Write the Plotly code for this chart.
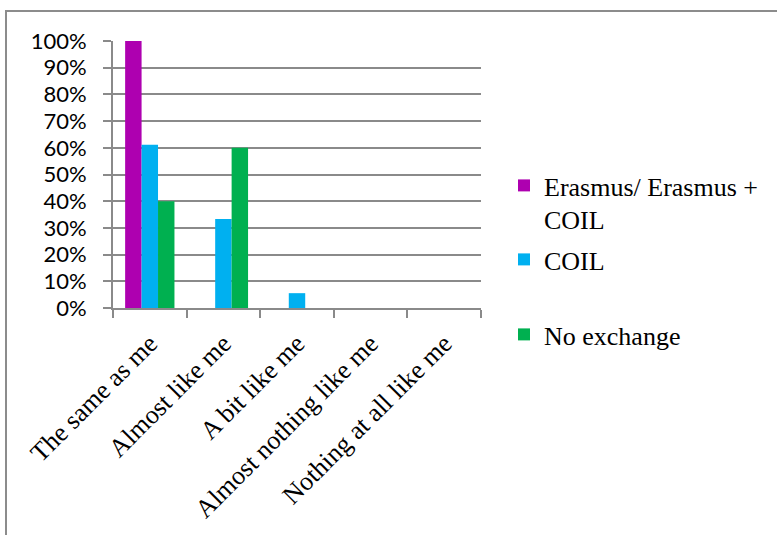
import plotly.graph_objects as go

categories = ["The same as me", "Almost like me", "A bit like me",
              "Almost nothing like me", "Nothing at all like me"]
erasmus = [1.00, 0.0, 0.0, 0.0, 0.0]
coil = [11/18, 6/18, 1/18, 0.0, 0.0]
no_exchange = [0.40, 0.60, 0.0, 0.0, 0.0]
series_names = ["Erasmus/ Erasmus +<br>COIL", "COIL", "No exchange"]
series_colors = ["#AE00B0", "#00B0F0", "#00B050"]
y_ticks = [i / 10 for i in range(11)]

W, H = 777, 535
L, R, T, B = 113, 296, 41, 227
pw, ph = W - L - R, H - T - B


def py(p):
    """pixel row (from top of figure) -> paper y"""
    return (T + ph - p) / ph


def px(p):
    return (p - L) / pw


legend_ids = ["legend", "legend2", "legend3"]
legend_tops = [162, 236, 311]

fig = go.Figure()
for vals, name, col, lid in zip([erasmus, coil, no_exchange], series_names, series_colors, legend_ids):
    fig.add_trace(go.Bar(x=categories, y=vals, name=name, marker_color=col,
                         marker_line_width=0, legend=lid))

grid = "#8a8a8a"
leg_font = dict(family="Liberation Serif", size=26, color="black")
legends = {}
for lid, top in zip(legend_ids, legend_tops):
    legends[lid] = dict(x=px(504), xanchor="left", y=py(top), yanchor="top",
                        font=leg_font, valign="top",
                        bgcolor="rgba(0,0,0,0)", itemclick=False)

fig.update_layout(
    width=W, height=H,
    margin=dict(l=L, r=R, t=T, b=B, pad=0, autoexpand=False),
    paper_bgcolor="white", plot_bgcolor="white",
    barmode="group", bargap=0.33, bargroupgap=0,
    showlegend=True,
    **legends,
    xaxis=dict(showline=True, linecolor=grid, linewidth=2, ticks="outside",
               tickson="boundaries", ticklen=8, tickcolor=grid, tickwidth=2,
               tickangle=-45, showgrid=False, ticklabelstandoff=8, automargin=False,
               tickfont=dict(family="Liberation Serif", size=26, color="black")),
    yaxis=dict(range=[0, 1], tickvals=y_ticks, tickformat=".0%",
               showline=True, linecolor=grid, linewidth=2,
               ticks="outside", ticklen=8, tickcolor=grid, tickwidth=2,
               showgrid=True, gridcolor=grid, gridwidth=2, zeroline=False,
               ticklabelstandoff=12, automargin=False,
               tickfont=dict(family="Lato", size=22, color="black")),
    shapes=[dict(type="rect", xref="paper", yref="paper",
                 x0=px(6), x1=px(820), y0=py(580), y1=py(11),
                 line=dict(color="#8c8c8c", width=2), fillcolor="rgba(0,0,0,0)", layer="below")],
)

fig.write_html("out.html", config={"displayModeBar": False},
               post_script="document.body.style.margin='0';document.body.style.overflow='hidden';")
